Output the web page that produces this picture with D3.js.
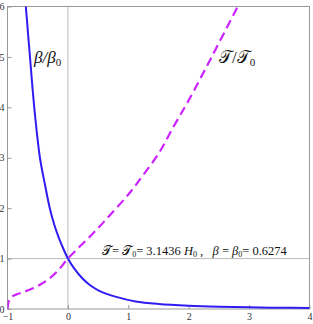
<!DOCTYPE html>
<html lang="en">
<head>
  <meta charset="UTF-8">
  <title>beta and T</title>
  <style>
    * { padding: 0; margin: 0; }
    body { background: #fff; }
    .tick text { font-family: "Liberation Serif", serif; font-size: 10px; fill: #333; }
    .tick line { stroke: #999; }
  </style>
</head>
<body>
<div id="app"></div>
<script src="https://cdn.jsdelivr.net/npm/d3@7"></script>
<script>
  // beta / beta0 (solid blue)
  const betaX = [-0.70, -0.628, -0.557, -0.463, -0.38, -0.30, -0.22, -0.15, -0.07, 0, 0.1, 0.246, 0.38, 0.52, 0.8, 1.12, 1.5, 2, 2.5, 3, 3.5, 4];
  const betaY = [6.05, 5, 4, 3, 2.47, 2.0, 1.65, 1.41, 1.18, 1, 0.81, 0.6, 0.46, 0.36, 0.24, 0.15, 0.1, 0.065, 0.045, 0.033, 0.025, 0.02];

  // T / T0 (dashed magenta)
  const tX = [-1, -0.99, -0.97, -0.93, -0.85, -0.75, -0.6, -0.45, -0.3, -0.15, 0, 0.164, 0.35, 0.52, 0.68, 1.0, 1.23, 1.5, 1.75, 2.0, 2.38, 2.82];
  const tY = [0, 0.1, 0.18, 0.24, 0.29, 0.33, 0.4, 0.49, 0.61, 0.78, 1, 1.2, 1.42, 1.63, 1.84, 2.27, 2.63, 3.08, 3.62, 4.14, 5.0, 6.02];

  const xTicks = [-1, 0, 1, 2, 3, 4];
  const yTicks = [0, 1, 2, 3, 4, 5, 6];

  const $width = 313, $height = 324;
  const svg = d3.select("#app").append("svg").attr("width", $width).attr("height", $height);

  const scaleX = d3.scaleLinear().domain([-1, 4]).range([7.5, 309.5]);
  const scaleY = d3.scaleLinear().domain([0, 6]).range([309, 6.5]);

  svg.append("clipPath").attr("id", "plot").append("rect")
    .attr("x", scaleX(-1)).attr("y", scaleY(6))
    .attr("width", scaleX(4) - scaleX(-1)).attr("height", scaleY(0) - scaleY(6));

  // grid at x = 0 and y = 1
  svg.append("line").attr("x1", scaleX(0)).attr("x2", scaleX(0)).attr("y1", scaleY(0)).attr("y2", scaleY(6))
    .attr("stroke", "#bbb").attr("stroke-width", 1);
  svg.append("line").attr("x1", scaleX(-1)).attr("x2", scaleX(4)).attr("y1", scaleY(1)).attr("y2", scaleY(1))
    .attr("stroke", "#bbb").attr("stroke-width", 1);

  // axes, ticks pointing inward
  const fmt = d3.format("d");
  const axisX = d3.axisBottom(scaleX).tickValues(xTicks).tickFormat(fmt).tickSizeInner(-4).tickSizeOuter(0).tickPadding(4);
  const axisY = d3.axisLeft(scaleY).tickValues(yTicks).tickFormat(fmt).tickSizeInner(-4).tickSizeOuter(0).tickPadding(3);

  svg.append("g").attr("transform", "translate(0," + scaleY(0) + ")").call(axisX)
    .call(g => g.select(".domain").remove());
  svg.append("g").attr("transform", "translate(" + scaleX(-1) + ",0)").call(axisY)
    .call(g => g.select(".domain").remove());

  svg.append("rect")
    .attr("x", scaleX(-1)).attr("y", scaleY(6))
    .attr("width", scaleX(4) - scaleX(-1)).attr("height", scaleY(0) - scaleY(6))
    .attr("fill", "none").attr("stroke", "#999").attr("stroke-width", 1);

  const line = d3.line()
    .x(function (d) { return scaleX(d[0]) })
    .y(function (d) { return scaleY(d[1]) })
    .curve(d3.curveCatmullRom.alpha(0.5));

  svg.append("path").datum(tX.map(function (x, i) { return [x, tY[i]] }))
    .attr("d", line).attr("fill", "none").attr("clip-path", "url(#plot)")
    .attr("stroke", "#cc22ff").attr("stroke-width", 2.2).attr("stroke-dasharray", "9,5");

  svg.append("path").datum(betaX.map(function (x, i) { return [x, betaY[i]] }))
    .attr("d", line).attr("fill", "none").attr("clip-path", "url(#plot)")
    .attr("stroke", "#2f1cf2").attr("stroke-width", 2);

  // labels
  const serif = '"Liberation Serif", "DejaVu Serif", serif';

  const lb = svg.append("text").attr("x", 34).attr("y", 63)
    .attr("font-family", serif).attr("font-size", 17).attr("fill", "#111");
  lb.append("tspan").attr("font-style", "italic").text("β/β");
  lb.append("tspan").attr("font-size", 11).attr("dy", 3).text("0");

  const lt = svg.append("text").attr("x", 219).attr("y", 63)
    .attr("font-family", serif).attr("font-size", 17).attr("fill", "#111");
  lt.append("tspan").text("𝒯/𝒯");
  lt.append("tspan").attr("font-size", 11).attr("dy", 3).text("0");

  const note = svg.append("text").attr("x", 102).attr("y", 255)
    .attr("font-family", serif).attr("font-size", 12.5).attr("fill", "#111");
  note.append("tspan").text("𝒯= 𝒯");
  note.append("tspan").attr("font-size", 8).attr("dy", 2).text("0");
  note.append("tspan").attr("dy", -2).text("= 3.1436 ");
  note.append("tspan").attr("font-style", "italic").text("H");
  note.append("tspan").attr("font-size", 8).attr("dy", 2).text("0");
  note.append("tspan").attr("dy", -2).attr("xml:space", "preserve").text(" ,   ");
  note.append("tspan").attr("font-style", "italic").text("β");
  note.append("tspan").text(" = ");
  note.append("tspan").attr("font-style", "italic").text("β");
  note.append("tspan").attr("font-size", 8).attr("dy", 2).text("0");
  note.append("tspan").attr("dy", -2).text("= 0.6274");
</script>
</body>
</html>
